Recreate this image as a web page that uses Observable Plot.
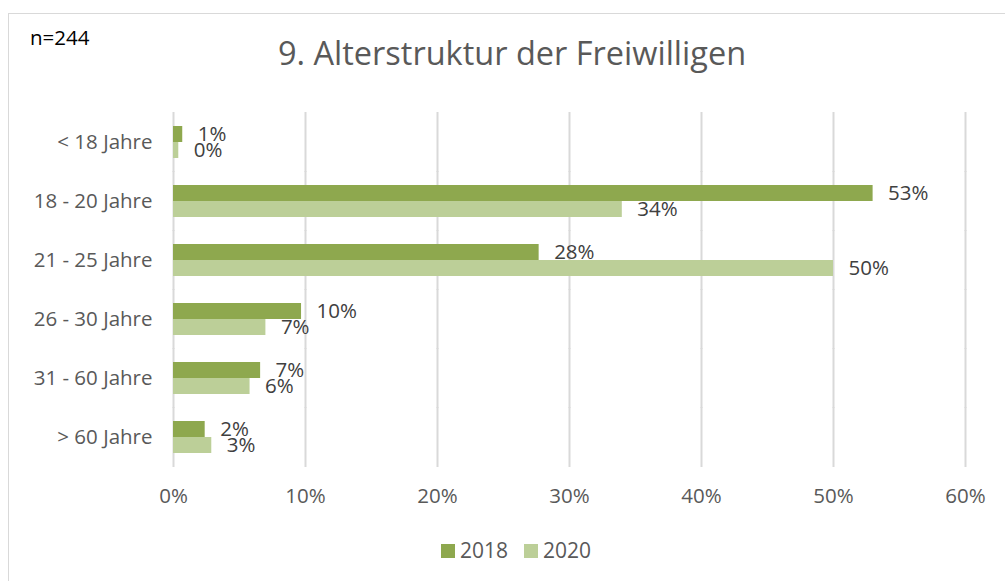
<!DOCTYPE html>
<html>
<head>
<meta charset="utf-8">
<script src="https://cdn.jsdelivr.net/npm/d3@7"></script>
<script src="https://cdn.jsdelivr.net/npm/@observablehq/plot@0.6"></script>
<style>
  html, body { margin: 0; padding: 0; background: #fff; }
  #wrap { position: relative; width: 1005px; height: 581px; overflow: hidden; font-family: "Open Sans", sans-serif; }
  #frame { position: absolute; left: 8px; top: 13px; width: 1100px; height: 600px; border: 1px solid #d9d9d9; box-sizing: border-box; }
  #n { position: absolute; left: 30px; top: 27px; font-size: 20.5px; color: #000; line-height: 1; }
  #title { position: absolute; left: 0; width: 1024px; top: 37px; text-align: center; font-size: 32.5px; color: #595959; line-height: 1; }
  #chart { position: absolute; left: 0; top: 0; }
  #legend { position: absolute; left: 441px; top: 540px; display: flex; align-items: center; font-size: 21px; color: #595959; line-height: 1; }
  #legend .sw { display: inline-block; width: 14px; height: 14px; margin-right: 5px; }
  #legend .it { display: flex; align-items: center; margin-right: 16px; }
</style>
</head>
<body>
<div id="wrap">
  <div id="frame"></div>
  <div id="n">n=244</div>
  <div id="title">9. Alterstruktur der Freiwilligen</div>
  <div id="chart"></div>
  <div id="legend"></div>
</div>
<script>
const categories = ["< 18 Jahre", "18 - 20 Jahre", "21 - 25 Jahre", "26 - 30 Jahre", "31 - 60 Jahre", "> 60 Jahre"];
const years = ["2018", "2020"];
const values2018 = [0.007, 0.53, 0.277, 0.097, 0.066, 0.024];
const values2020 = [0.004, 0.34, 0.50, 0.070, 0.058, 0.029];
const xTicks = [0, 0.1, 0.2, 0.3, 0.4, 0.5, 0.6];
const colors = ["#8EA84E", "#BCCF98"];

const data = [];
categories.forEach((c, i) => {
  data.push({category: c, year: "2018", value: values2018[i]});
  data.push({category: c, year: "2020", value: values2020[i]});
});

const fmt = d3.format(".0%");

const chart = Plot.plot({
  width: 1005,
  height: 525,
  marginLeft: 173,
  marginRight: 40,
  marginTop: 112,
  marginBottom: 59,
  style: {fontFamily: "Open Sans, sans-serif", fontSize: "20.5px", color: "#595959", background: "transparent"},
  x: {domain: [0, 0.6], ticks: xTicks, tickFormat: fmt, tickSize: 0, tickPadding: 35, label: null},
  y: {domain: years, axis: null, paddingInner: 0, paddingOuter: 0},
  fy: {domain: categories, paddingInner: 0.458, paddingOuter: 0.229, axis: "left", label: null, tickSize: 0, tickPadding: 21},
  color: {domain: years, range: colors},
  marks: [
    Plot.ruleX(xTicks, {stroke: "#d9d9d9", strokeWidth: 2, insetTop: -14, insetBottom: -14}),
    Plot.barX(data, {x: "value", y: "year", fy: "category", fill: "year"}),
    Plot.text(data, {x: "value", y: "year", fy: "category", text: d => fmt(d.value), textAnchor: "start", dx: 15, fill: "#404040", fontSize: 20.5})
  ]
});
document.getElementById("chart").appendChild(chart);

const legend = document.getElementById("legend");
years.forEach((y, i) => {
  const it = document.createElement("div");
  it.className = "it";
  const sw = document.createElement("span");
  sw.className = "sw";
  sw.style.background = colors[i];
  const tx = document.createElement("span");
  tx.textContent = y;
  it.appendChild(sw);
  it.appendChild(tx);
  legend.appendChild(it);
});
</script>
</body>
</html>
